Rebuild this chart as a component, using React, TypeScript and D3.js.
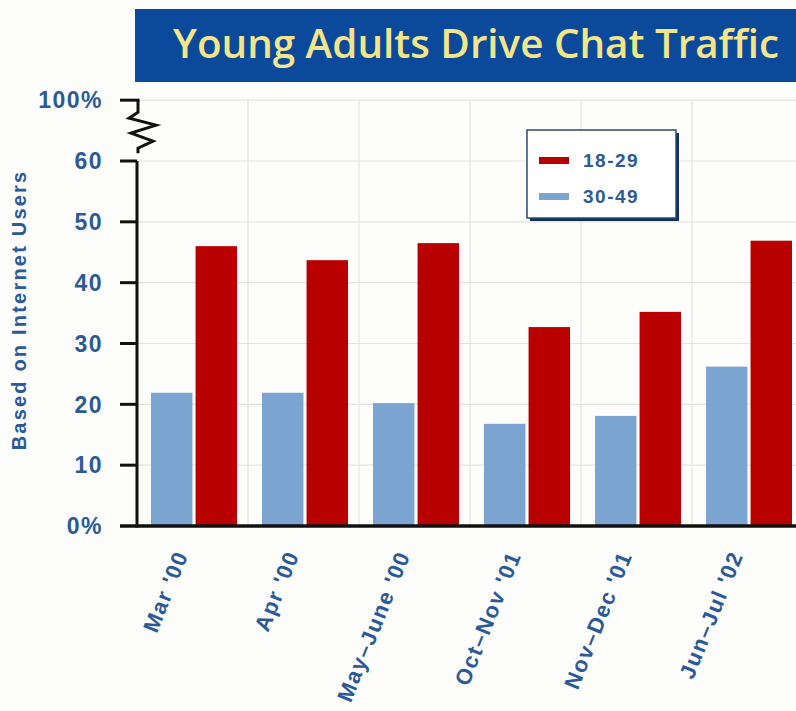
import React from "react";
import * as d3 from "d3";

const categories = ["Mar '00", "Apr '00", "May–June '00", "Oct–Nov '01", "Nov–Dec '01", "Jun–Jul '02"];
const seriesNames = ["30-49", "18-29"];
const values1849 = [46.0, 43.7, 46.5, 32.7, 35.2, 46.9];
const values3049 = [21.9, 21.9, 20.2, 16.8, 18.1, 26.2];
const yTicks = [0, 10, 20, 30, 40, 50, 60];
const yTickLabels = ["0%", "10", "20", "30", "40", "50", "60"];
const breakLabel = "100%";
const title = "Young Adults Drive Chat Traffic";
const yTitle = "Based on Internet Users";

const RED = "#b80000";
const BLUE = "#7ba4d0";
const LABEL = "#2b5a96";

export default function App() {
  const W = 796, H = 711;
  const x = d3.scaleBand<string>().domain(categories).range([137, 803]);
  const xi = d3.scaleBand<string>().domain(seriesNames).range([14, 100]).paddingInner(0.07);
  const y = d3.scaleLinear().domain([0, 60]).range([526, 161]);
  const yBreak = y(70);
  const axisX = 137;
  const font = "Arial, 'Liberation Sans', Helvetica, sans-serif";
  const data = categories.map((c, i) => ({ c, a: values3049[i], b: values1849[i] }));

  const zig = d3.line()([
    [axisX + 1, yBreak],
    [axisX + 1, yBreak + 12],
    [axisX - 8, yBreak + 18],
    [axisX + 19, yBreak + 25],
    [axisX - 6, yBreak + 33],
    [axisX + 16, yBreak + 41],
    [axisX + 1, yBreak + 48],
    [axisX + 1, yBreak + 53],
  ]) as string;

  return (
    <svg width={W} height={H} style={{ display: "block", position: "absolute", left: 0, top: 0 }} fontFamily={font}>
      <rect x={0} y={0} width={W} height={H} fill="#fdfdfc" />
      {/* title banner */}
      <rect x={135} y={9} width={W - 135} height={73} fill="#0b4a9b" />
      <text x={476} y={58} textAnchor="middle" fill="#f3e58a" fontSize={40} fontWeight={600}
        fontFamily="'Open Sans', 'Liberation Sans', Arial, sans-serif"
        textLength={606} lengthAdjust="spacingAndGlyphs">{title}</text>

      {/* gridlines */}
      {yTicks.slice(1).map((t) => (
        <line key={t} x1={axisX} x2={W} y1={y(t)} y2={y(t)} stroke="#e4e4e2" strokeWidth={1.2} />
      ))}
      <line x1={axisX} x2={W} y1={yBreak} y2={yBreak} stroke="#e4e4e2" strokeWidth={1.2} />
      {categories.slice(1).map((c) => (
        <line key={c} x1={x(c)!} x2={x(c)!} y1={yBreak} y2={y(0)} stroke="#e4e4e2" strokeWidth={1.2} />
      ))}

      {/* bars */}
      {data.map((d) => (
        <g key={d.c} transform={`translate(${x(d.c)},0)`}>
          <rect x={xi("30-49")} y={y(d.a)} width={xi.bandwidth()} height={y(0) - y(d.a)} fill={BLUE} />
          <rect x={xi("18-29")} y={y(d.b)} width={xi.bandwidth()} height={y(0) - y(d.b)} fill={RED} />
        </g>
      ))}

      {/* axes */}
      <line x1={axisX} x2={axisX} y1={y(60)} y2={y(0) + 1.5} stroke="#111" strokeWidth={3} />
      <path d={zig} fill="none" stroke="#111" strokeWidth={3} strokeLinejoin="miter" />
      <line x1={120} x2={W} y1={y(0)} y2={y(0)} stroke="#111" strokeWidth={3.5} />
      {yTicks.slice(1).map((t) => (
        <line key={t} x1={120} x2={axisX} y1={y(t)} y2={y(t)} stroke="#111" strokeWidth={3} />
      ))}
      <line x1={120} x2={axisX + 2.5} y1={yBreak} y2={yBreak} stroke="#111" strokeWidth={3} />

      {/* y tick labels */}
      {yTicks.map((t, i) => (
        <text key={t} x={103} y={y(t)} dy="0.36em" textAnchor="end" fill={LABEL} fontSize={23} fontWeight="bold" letterSpacing={1.5}>{yTickLabels[i]}</text>
      ))}
      <text x={103} y={yBreak} dy="0.36em" textAnchor="end" fill={LABEL} fontSize={23} fontWeight="bold" letterSpacing={1.5}>{breakLabel}</text>

      {/* y title */}
      <text transform={`translate(26,${310}) rotate(-90)`} textAnchor="middle" fill={LABEL} fontSize={20} fontWeight="bold" letterSpacing={2.2}>{yTitle}</text>

      {/* x labels */}
      {categories.map((c) => (
        <text key={c} transform={`translate(${x(c)! + x.bandwidth() / 2 - 11},552) rotate(-68)`} textAnchor="end" dy="0.35em"
          fill={LABEL} fontSize={22} fontWeight="bold" letterSpacing={1.5}>{c}</text>
      ))}

      {/* legend */}
      <rect x={530} y={133} width={149} height={88} fill="#12305e" />
      <rect x={527} y={130} width={149} height={88} fill="#ffffff" stroke="#2a4a7a" strokeWidth={1.5} />
      {[{ n: "18-29", c: RED, yy: 160 }, { n: "30-49", c: BLUE, yy: 196 }].map((l) => (
        <g key={l.n}>
          <rect x={539} y={l.yy - 3} width={30} height={7} fill={l.c} />
          <text x={583} y={l.yy} dy="0.36em" fill={LABEL} fontSize={19} fontWeight="bold" letterSpacing={1.5}>{l.n}</text>
        </g>
      ))}
    </svg>
  );
}
